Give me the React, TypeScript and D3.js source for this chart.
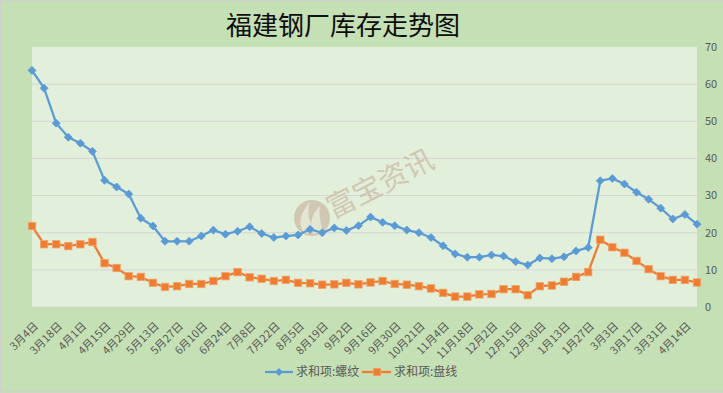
import React from 'react';
import * as d3 from 'd3';

const categories: string[] = [
  '3月4日', '3月11日', '3月18日', '3月25日', '4月1日', '4月8日', '4月15日', '4月22日',
  '4月29日', '5月6日', '5月13日', '5月20日', '5月27日', '6月3日', '6月10日', '6月17日',
  '6月24日', '7月1日', '7月8日', '7月15日', '7月22日', '7月29日', '8月5日', '8月12日',
  '8月19日', '8月26日', '9月2日', '9月9日', '9月16日', '9月23日', '9月30日', '10月14日',
  '10月21日', '10月28日', '11月4日', '11月11日', '11月18日', '11月25日', '12月2日', '12月9日',
  '12月15日', '12月23日', '12月30日', '1月6日', '1月13日', '1月20日', '1月27日', '2月24日',
  '3月3日', '3月10日', '3月17日', '3月24日', '3月31日', '4月7日', '4月14日', '4月21日',
];

const rebar: number[] = [
  63.7, 58.9, 49.5, 45.7, 44.1, 41.9, 34.1, 32.3, 30.4, 23.9, 21.8, 17.7, 17.7, 17.7,
  19.1, 20.7, 19.6, 20.4, 21.6, 19.8, 18.7, 19.1, 19.4, 20.9, 20.0, 21.3, 20.6, 21.9,
  24.2, 22.8, 21.9, 20.7, 20.0, 18.7, 16.5, 14.3, 13.4, 13.4, 14.0, 13.7, 12.2, 11.3,
  13.2, 13.0, 13.5, 15.1, 16.0, 34.0, 34.6, 33.1, 30.9, 29.0, 26.6, 23.7, 24.9, 22.3,
];

const wire: number[] = [
  21.8, 16.9, 16.9, 16.4, 16.9, 17.5, 11.8, 10.5, 8.3, 8.1, 6.5, 5.4, 5.6, 6.2,
  6.2, 7.0, 8.3, 9.4, 8.0, 7.6, 7.0, 7.3, 6.5, 6.4, 6.0, 6.1, 6.5, 6.1,
  6.6, 7.0, 6.2, 6.0, 5.6, 5.0, 3.8, 2.8, 2.8, 3.4, 3.5, 4.8, 4.8, 3.2,
  5.6, 5.8, 6.8, 8.1, 9.4, 18.1, 16.1, 14.6, 12.4, 10.2, 8.3, 7.3, 7.3, 6.6,
];

const yTicks: number[] = [0, 10, 20, 30, 40, 50, 60, 70];
const title = '福建钢厂库存走势图';
const seriesNames: string[] = ['求和项:螺纹', '求和项:盘线'];
const watermark = '富宝资讯';

const FONT = '"Noto Sans CJK SC", "Microsoft YaHei", sans-serif';
const BLUE = '#5b9bd5';
const ORANGE = '#ed7d31';

export default function App() {
  const W = 723;
  const H = 393;
  const left = 32;
  const right = 697;
  const top = 47;
  const bottom = 307;

  const idx = d3.range(categories.length);
  const x = d3.scalePoint<number>().domain(idx).range([left, right]);
  const y = d3.scaleLinear().domain([0, 70]).range([bottom, top]);

  const line = d3
    .line<number>()
    .x((_, i) => x(i) as number)
    .y((d) => y(d));

  const diamond = (cx: number, cy: number, r = 4) =>
    `M${cx},${cy - r}L${cx + r},${cy}L${cx},${cy + r}L${cx - r},${cy}Z`;

  return (
    <svg
      width={W}
      height={H}
      style={{ position: 'absolute', left: 0, top: 0, fontFamily: FONT }}
    >
      <rect x={0} y={0} width={W} height={H} fill="#c5e0b4" />
      <rect x={0.5} y={0.5} width={W + 2} height={H - 2} fill="none" stroke="#d0d0d0" strokeWidth={1.5} />
      <rect x={left} y={top} width={right - left} height={bottom - top} fill="#e2efda" />

      {yTicks.slice(1, -1).map((t) => (
        <line key={t} x1={left} x2={right} y1={y(t)} y2={y(t)} stroke="#d6d6d6" strokeWidth={1} />
      ))}
      <line x1={left} x2={right} y1={bottom} y2={bottom} stroke="#d6d6d6" strokeWidth={1} />

      {/* watermark */}
      <g opacity={0.55}>
        <circle cx={312} cy={218} r={18} fill="#c4a994" />
        <path d="M305,234 C296,222 302,212 310,202 C306,214 310,222 314,232 Z" fill="#e8ddd0" />
        <path d="M313,234 C308,222 314,212 320,206 C318,216 322,224 322,232 Z" fill="#e8ddd0" />
        <text
          x={0}
          y={0}
          transform="translate(333,219) rotate(-27)"
          fontSize={29}
          fill="#c4a994"
        >
          {watermark}
        </text>
      </g>

      {/* y-axis labels on right */}
      {yTicks.map((t) => (
        <text key={t} x={705} y={y(t)} dy="0.35em" fontSize={11} fill="#595959">
          {t}
        </text>
      ))}

      {/* x-axis labels */}
      {categories.map((c, i) =>
        i % 2 === 0 ? (
          <text
            key={c}
            transform={`translate(${(x(i) as number) + 4},${324}) rotate(-45)`}
            textAnchor="end"
            dy="0.35em"
            fontSize={11}
            fill="#595959"
          >
            {c}
          </text>
        ) : null
      )}

      {/* series lines */}
      <path d={line(rebar) || ''} fill="none" stroke={BLUE} strokeWidth={2.25} strokeLinejoin="round" />
      <path d={line(wire) || ''} fill="none" stroke={ORANGE} strokeWidth={2.25} strokeLinejoin="round" />

      {rebar.map((v, i) => (
        <path key={'b' + i} d={diamond(x(i) as number, y(v))} fill={BLUE} stroke={BLUE} strokeWidth={0.75} />
      ))}
      {wire.map((v, i) => (
        <rect
          key={'o' + i}
          x={(x(i) as number) - 3.75}
          y={y(v) - 3.75}
          width={7.5}
          height={7.5}
          fill={ORANGE}
          stroke="#f3a56f"
          strokeWidth={0.75}
        />
      ))}

      {/* title */}
      <text x={343} y={35} textAnchor="middle" fontSize={26} fill="#0d0d0d">
        {title}
      </text>

      {/* legend */}
      <line x1={265} x2={293} y1={372} y2={372} stroke={BLUE} strokeWidth={2.25} />
      <path d={diamond(279, 372)} fill={BLUE} />
      <text x={296} y={372} dy="0.35em" fontSize={12} fill="#595959">
        {seriesNames[0]}
      </text>
      <line x1={362} x2={391} y1={372} y2={372} stroke={ORANGE} strokeWidth={2.25} />
      <rect x={373.25} y={368.25} width={7.5} height={7.5} fill={ORANGE} stroke="#f3a56f" strokeWidth={0.75} />
      <text x={394} y={372} dy="0.35em" fontSize={12} fill="#595959">
        {seriesNames[1]}
      </text>
    </svg>
  );
}
